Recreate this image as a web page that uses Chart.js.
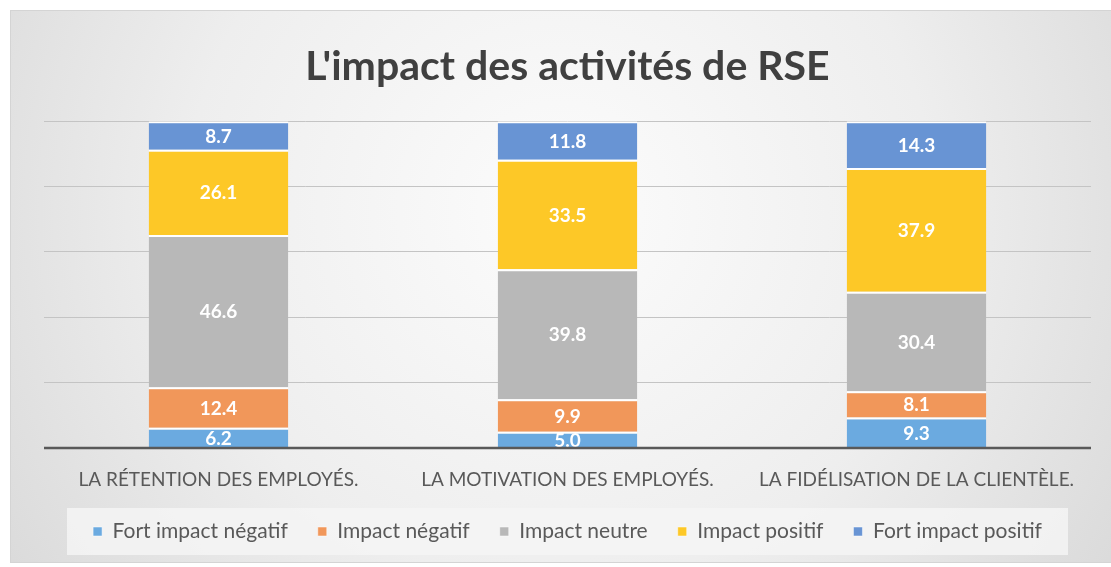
<!DOCTYPE html>
<html lang="fr">
<head>
<meta charset="utf-8">
<title>L'impact des activités de RSE</title>
<script src="https://cdn.jsdelivr.net/npm/chart.js@4/dist/chart.umd.min.js"></script>
<style>
  html, body { margin: 0; padding: 0; background: #fff; }
  #wrap { position: relative; width: 1111px; height: 567px; }
</style>
</head>
<body>
<div id="wrap"><canvas id="rse"></canvas></div>
<script>
  // Catégories et séries (pourcentages, chaque barre totalise 100)
  const categories = [
    'LA RÉTENTION DES EMPLOYÉS.',
    'LA MOTIVATION DES EMPLOYÉS.',
    'LA FIDÉLISATION DE LA CLIENTÈLE.'
  ];
  const fortNegatif = [6.2, 5.0, 9.3];
  const negatif     = [12.4, 9.9, 8.1];
  const neutre      = [46.6, 39.8, 30.4];
  const positif     = [26.1, 33.5, 37.9];
  const fortPositif = [8.7, 11.8, 14.3];

  const FONT = 'Lato, "Open Sans", sans-serif';
  const TEXT = '#595959';

  function serie(label, data, color) {
    return {
      label, data,
      backgroundColor: color,
      borderColor: '#ffffff',
      borderWidth: { top: 2, bottom: 0, left: 0, right: 0 },
      borderSkipped: false,
      categoryPercentage: 1.0,
      barPercentage: 0.4,
    };
  }

  // Fond du cadre : dégradé gris + encadré clair de la légende
  const fond = {
    id: 'fond',
    beforeDraw(chart) {
      const { ctx, chartArea, legend } = chart;
      ctx.save();
      ctx.fillStyle = '#ffffff';
      ctx.fillRect(0, 0, chart.width, chart.height);
      const g = ctx.createRadialGradient(560, 210, 0, 560, 210, 680);
      g.addColorStop(0, '#fcfcfc');
      g.addColorStop(0.55, '#eeeeee');
      g.addColorStop(1, '#d9d9d9');
      ctx.fillStyle = g;
      ctx.fillRect(10, 10, chart.width - 10, 552);
      ctx.strokeStyle = '#d4d4d4';
      ctx.lineWidth = 1;
      ctx.strokeRect(10.5, 10.5, chart.width - 10, 552);

      // encadré de la légende
      ctx.fillStyle = 'rgba(245,245,245,0.85)';
      ctx.fillRect(chartArea.left + 23, legend.top + 17, chartArea.right - chartArea.left - 46, 47);
      ctx.restore();
    }
  };

  // Valeurs au centre des segments, ligne de l'axe et libellés des catégories
  const valeurs = {
    id: 'valeurs',
    afterDatasetsDraw(chart) {
      const { ctx, chartArea, scales } = chart;
      ctx.save();
      ctx.font = 'bold 19px ' + FONT;
      ctx.fillStyle = '#ffffff';
      ctx.textAlign = 'center';
      ctx.textBaseline = 'middle';
      chart.data.datasets.forEach((ds, i) => {
        chart.getDatasetMeta(i).data.forEach((bar, j) => {
          const mid = (bar.y + bar.base) / 2;
          ctx.fillText(ds.data[j].toFixed(1), bar.x, mid + 1);
        });
      });
      const y = scales.y.getPixelForValue(0);
      ctx.strokeStyle = '#595959';
      ctx.lineWidth = 2.5;
      ctx.beginPath();
      ctx.moveTo(chartArea.left, y);
      ctx.lineTo(chartArea.right, y);
      ctx.stroke();

      ctx.font = '19px ' + FONT;
      ctx.fillStyle = TEXT;
      categories.forEach((c, i) => {
        ctx.fillText(c, scales.x.getPixelForValue(i), y + 32);
      });
      ctx.restore();
    }
  };

  new Chart(document.getElementById('rse'), {
    type: 'bar',
    data: {
      labels: categories,
      datasets: [
        serie('Fort impact négatif', fortNegatif, '#6BAAE0'),
        serie('Impact négatif', negatif, '#F1975A'),
        serie('Impact neutre', neutre, '#B8B8B8'),
        serie('Impact positif', positif, '#FDC827'),
        serie('Fort impact positif', fortPositif, '#6894D4'),
      ]
    },
    options: {
      responsive: true,
      maintainAspectRatio: false,
      animation: false,
      layout: { padding: { left: 44, right: 20, top: 10, bottom: 15 } },
      plugins: {
        title: {
          display: true,
          text: "L'impact des activités de RSE",
          color: '#404040',
          font: { family: FONT, size: 41, weight: 'bold' },
          padding: { top: 32, bottom: 30 },
        },
        legend: {
          position: 'bottom',
          labels: {
            color: TEXT,
            font: { family: FONT, size: 21 },
            boxWidth: 9,
            boxHeight: 9,
            padding: 30,
          }
        },
        tooltip: { enabled: false },
      },
      scales: {
        x: {
          stacked: true,
          grid: { display: false },
          border: { display: false },
          ticks: { display: false },
          afterFit(scale) { scale.height = 43; },
        },
        y: {
          stacked: true,
          min: 0,
          max: 100,
          ticks: { display: false, stepSize: 20 },
          grid: { color: '#c4c4c4', lineWidth: 1, drawTicks: false },
          border: { display: false },
          afterFit(scale) { scale.width = 0; },
        }
      }
    },
    plugins: [fond, valeurs]
  });
</script>
</body>
</html>
